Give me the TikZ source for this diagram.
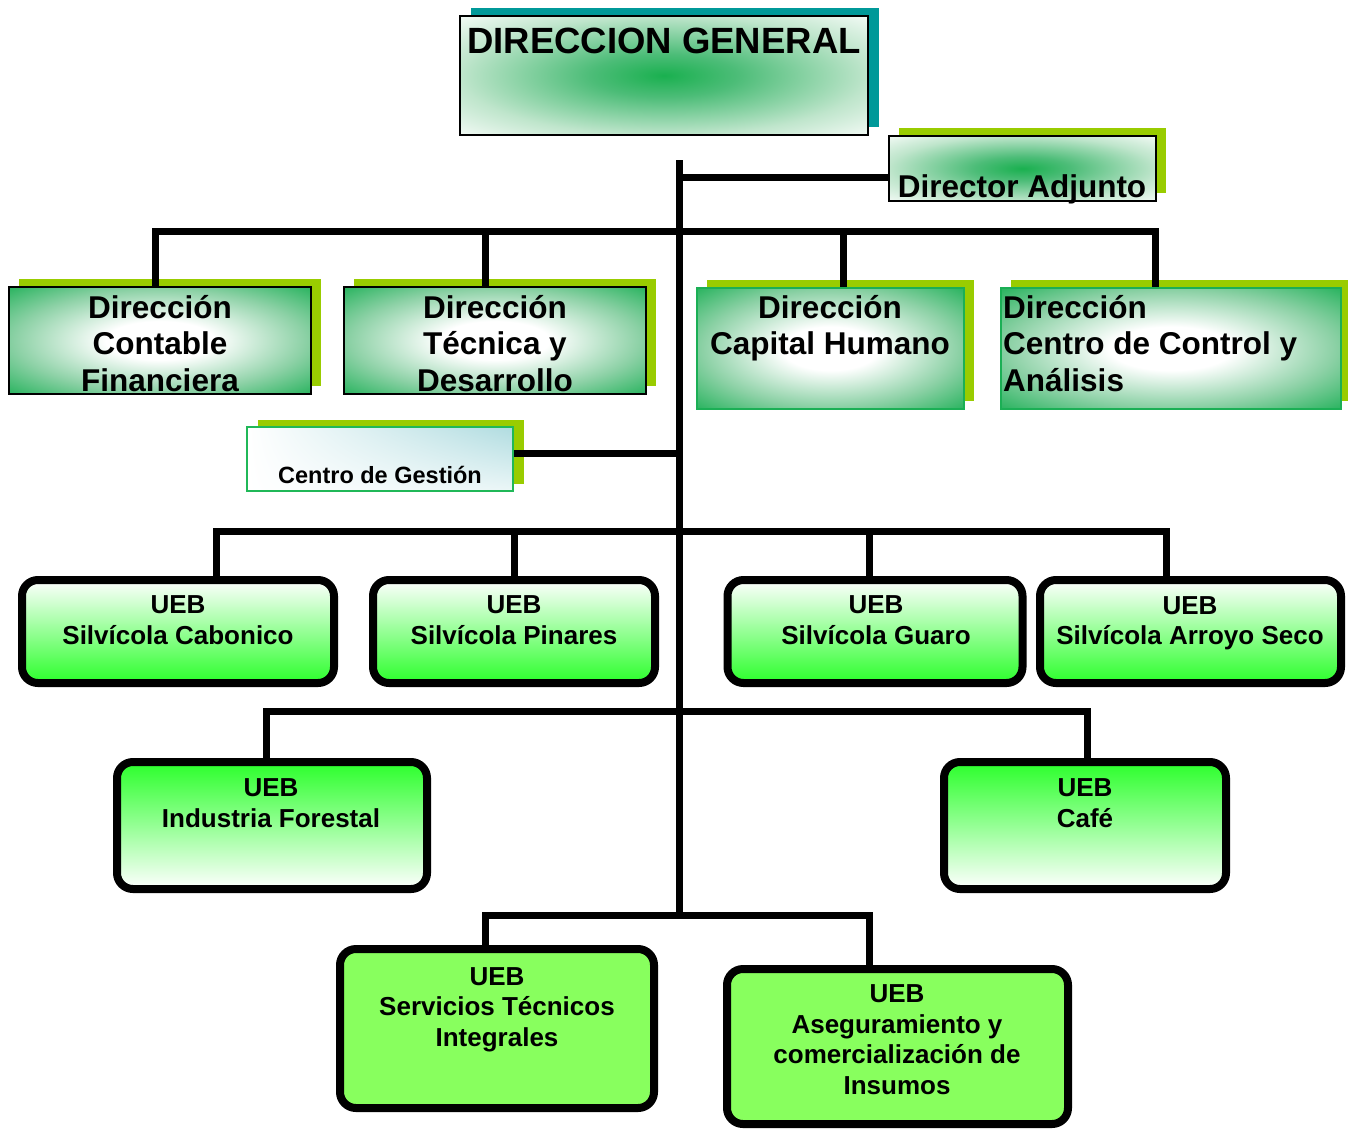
\documentclass[tikz,border=0pt]{standalone}
\usepackage{fontspec}
\setmainfont{Liberation Sans}
\usetikzlibrary{positioning,shadows,shadings}

\definecolor{tealshadow}{HTML}{009999}
\definecolor{limeshadow}{HTML}{99CC00}
\definecolor{dirgreen}{HTML}{1BAF55}
\definecolor{uebgreen}{HTML}{2BFF2B}
\definecolor{uebpale}{HTML}{88FF5E}
\definecolor{gestcyan}{HTML}{B0DCE0}
\definecolor{gestline}{HTML}{20B858}

% green glow in the middle, white at the rim
\pgfdeclareradialshading{glowin}{\pgfpoint{0bp}{0bp}}{rgb(0bp)=(0.10,0.69,0.31); rgb(9bp)=(0.30,0.74,0.47); rgb(25bp)=(0.75,0.90,0.80); rgb(38bp)=(1,1,1); rgb(50bp)=(1,1,1)}
% white in the middle, green at the rim
\pgfdeclareradialshading{glowout}{\pgfpoint{0bp}{0bp}}{rgb(0bp)=(1,1,1); rgb(9bp)=(1,1,1); rgb(24bp)=(0.55,0.82,0.65); rgb(37bp)=(0.106,0.686,0.333); rgb(50bp)=(0.106,0.686,0.333)}

\begin{document}
\begin{tikzpicture}[x=1pt,y=-1pt,
  conn/.style={line width=7pt, line join=miter},
  topbox/.style={draw, line width=2pt, shade, shading=glowin, inner sep=0pt, drop shadow={shadow xshift=11pt, shadow yshift=8pt, fill=tealshadow, opacity=1}},
  adjbox/.style={draw, line width=2pt, shade, shading=glowin, inner sep=0pt, drop shadow={shadow xshift=10pt, shadow yshift=8pt, fill=limeshadow, opacity=1}},
  dirbox/.style={draw, line width=2pt, shade, shading=glowout, inner sep=0pt, drop shadow={shadow xshift=10pt, shadow yshift=8pt, fill=limeshadow, opacity=1}},
  gestbox/.style={draw=gestline, line width=2pt, upper left=white, upper right=gestcyan, lower left=white, lower right=gestcyan!25!white, inner sep=0pt, drop shadow={shadow xshift=11pt, shadow yshift=7pt, fill=limeshadow, opacity=1}},
  uebbox/.style={draw, line width=8pt, rounded corners=16pt, inner sep=0pt, top color=white, bottom color=uebgreen},
  uebboxr/.style={uebbox, top color=uebgreen, bottom color=white},
  uebboxp/.style={draw, line width=8pt, rounded corners=16pt, inner sep=0pt, fill=uebpale},
  bigtxt/.style={font=\bfseries\fontsize{31.5}{36.5}\selectfont, align=center, inner sep=0pt},
  uebtxt/.style={font=\bfseries\fontsize{26}{30.5}\selectfont, align=center, inner sep=0pt},
  gesttxt/.style={font=\bfseries\fontsize{23.5}{28}\selectfont, inner sep=0pt}]
\useasboundingbox (0,0) rectangle (1348,1128);

% direccion general and adjunto
\node[topbox, minimum width=408pt, minimum height=119pt] (dg) at (664,75.5) {};
\node[bigtxt, font=\bfseries\fontsize{36.5}{40}\selectfont, anchor=base] (dg-t) at (664,53) {DIRECCION GENERAL};
\node[adjbox, minimum width=267pt, minimum height=65pt] (dadj) at (1022.5,168.5) {};
\node[bigtxt, anchor=base] (dadj-t) at (1022,197) {Director Adjunto};

% direcciones
\node[dirbox, minimum width=302pt, minimum height=107pt] (dcf) at (160,340.5) {};
\node[bigtxt] (dcf-t) at (160,343.2) {Dirección\\Contable\\Financiera};
\node[dirbox, minimum width=302pt, minimum height=107pt] (dtd) at (495,340.5) {};
\node[bigtxt] (dtd-t) at (495,343.2) {Dirección\\Técnica y\\Desarrollo};
\node[dirbox, draw=dirgreen, minimum width=267pt, minimum height=121pt] (dch) at (830.5,348.5) {};
\node[bigtxt] (dch-t) at (830,328.2) {Dirección\\Capital Humano};
\node[dirbox, draw=dirgreen, minimum width=340pt, minimum height=121pt] (dcca) at (1171,348.5) {};
\node[bigtxt, align=left, anchor=west] (dcca-t) at (1003,343.2) {Dirección\\Centro de Control y\\Análisis};

% centro de gestion
\node[gestbox, minimum width=266pt, minimum height=64pt] (cg) at (380,459) {};
\node[gesttxt, anchor=base] (cg-t) at (380,483) {Centro de Gestión};

% UEB silvicolas
\node[uebbox, minimum width=312pt, minimum height=103pt] (cab) at (178,631.5) {};
\node[uebtxt] (cab-t) at (178,620.3) {UEB\\Silvícola Cabonico};
\node[uebbox, minimum width=282pt, minimum height=103pt] (pin) at (514,631.5) {};
\node[uebtxt] (pin-t) at (514,620.3) {UEB\\Silvícola Pinares};
\node[uebbox, minimum width=295pt, minimum height=103pt] (gua) at (875,631.5) {};
\node[uebtxt] (gua-t) at (876,620.3) {UEB\\Silvícola Guaro};
\node[uebbox, minimum width=301pt, minimum height=103pt] (arr) at (1190.5,631.5) {};
\node[uebtxt] (arr-t) at (1190,623) {UEB\\Silvícola Arroyo Seco};

% UEB industria y cafe
\node[uebboxr, minimum width=310pt, minimum height=127pt] (ind) at (272,825.5) {};
\node[uebtxt] (ind-t) at (271,803.4) {UEB\\Industria Forestal};
\node[uebboxr, minimum width=282pt, minimum height=127pt] (caf) at (1085,825.5) {};
\node[uebtxt] (caf-t) at (1085,803.4) {UEB\\Café};

% UEB servicios y aseguramiento
\node[uebboxp, minimum width=314pt, minimum height=159pt] (srv) at (497,1028.5) {};
\node[uebtxt] (srv-t) at (497,1009.3) {UEB\\Servicios Técnicos\\Integrales};
\node[uebboxp, minimum width=341pt, minimum height=155pt] (ase) at (897.5,1046.5) {};
\node[uebtxt] (ase-t) at (897,1039.9) {UEB\\Aseguramiento y\\comercialización de\\Insumos};

% junctions
\coordinate (trunktop) at (679,160);
\coordinate (trunkend) at (679,918.5);
\coordinate (adjj) at (679,177);
\coordinate (cgj) at (679,453);
\coordinate (r1a) at (155,231); \coordinate (r1b) at (485,231);
\coordinate (r1c) at (843,231); \coordinate (r1d) at (1155,231);
\coordinate (r2a) at (216,531); \coordinate (r2b) at (514,531);
\coordinate (r2c) at (869,531); \coordinate (r2d) at (1166,531);
\coordinate (r3a) at (266,711); \coordinate (r3b) at (1087,711);
\coordinate (r4a) at (485,915); \coordinate (r4b) at (869,915);

% connectors
\draw[conn] (trunktop) -- (trunkend);
\draw[conn] (adjj) -- (adjj -| dadj.west);
\draw[conn] (r1a |- dcf.north) -- (r1a) -- (r1d) -- (r1d |- dcca.north);
\foreach \c/\b in {r1b/dtd, r1c/dch}
  \draw[conn] (\c) -- (\c |- \b.north);
\draw[conn] (cg.east |- cgj) -- (cgj);
\draw[conn] (r2a |- cab.north) -- (r2a) -- (r2d) -- (r2d |- arr.north);
\foreach \c/\b in {r2b/pin, r2c/gua}
  \draw[conn] (\c) -- (\c |- \b.north);
\draw[conn] (r3a |- ind.north) -- (r3a) -- (r3b) -- (r3b |- caf.north);
\draw[conn] (r4a |- srv.north) -- (r4a) -- (r4b) -- (r4b |- ase.north);
\end{tikzpicture}
\end{document}
